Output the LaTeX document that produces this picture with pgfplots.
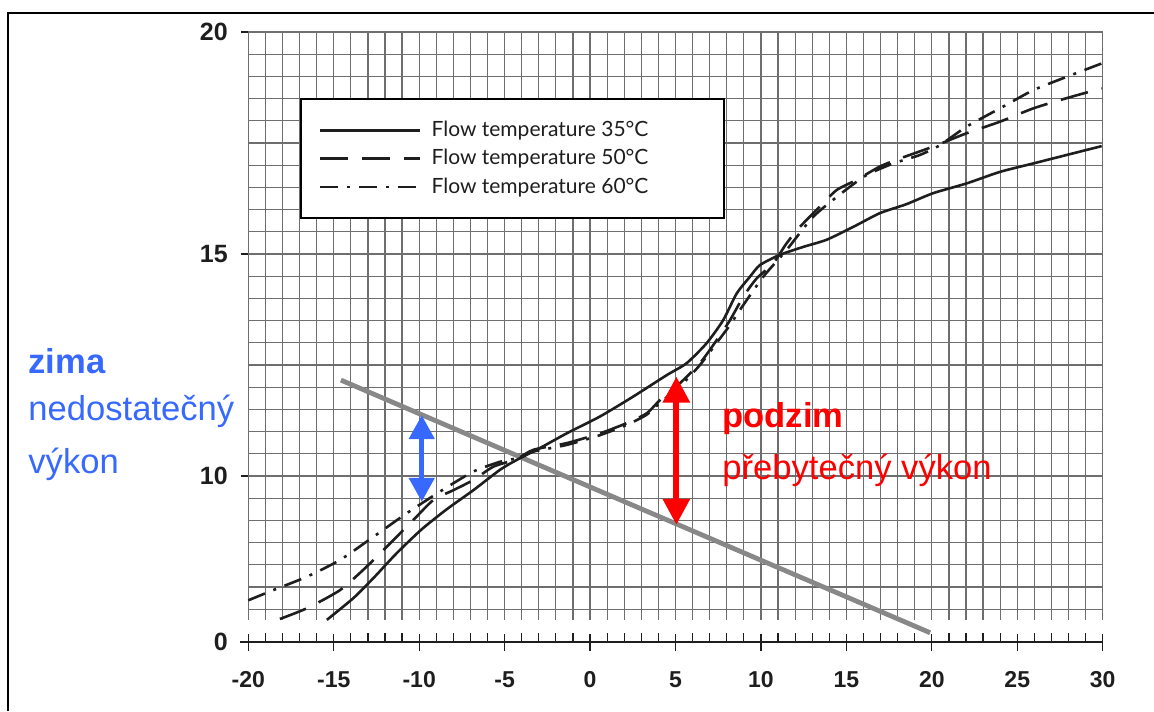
\documentclass[border=0pt]{standalone}
\usepackage{fontspec}
\setmainfont{Liberation Sans}
\newfontfamily\legfont{Lato}
\usepackage{pgfplots}
\pgfplotsset{compat=1.18}
\usetikzlibrary{arrows.meta}
\definecolor{zblue}{RGB}{55,105,255}
\definecolor{pred}{RGB}{255,0,0}
\definecolor{lgray}{RGB}{136,136,136}
\definecolor{gridc}{RGB}{110,110,110}
\definecolor{txt}{RGB}{30,30,30}

\begin{document}
\begin{tikzpicture}[x=1pt,y=1pt]
\path[use as bounding box] (0,0) rectangle (577,355.5);
\draw[line width=1pt] (4,0) -- (4,349) -- (577,349);
% grid-only axis
\begin{axis}[
  at={(124.15pt,45.5pt)}, anchor=south west,
  scale only axis, width=427.2pt, height=294pt,
  xmin=-20, xmax=30, ymin=6.757, ymax=20,
  xtick={-20,-19,...,30}, ytick={7,7.5,...,20},
  xticklabels={}, yticklabels={},
  tick style={draw=none},
  axis line style={draw=none},
  grid=major,
  major grid style={draw=gridc, line width=0.6pt},
]
\end{axis}
\begin{axis}[
  at={(124.15pt,34.5pt)}, anchor=south west,
  scale only axis, width=427.2pt, height=305pt,
  xmin=-20, xmax=30, ymin=6.2613, ymax=20,
  clip=false,
  axis x line*=bottom, axis y line*=left,
  y axis line style={draw=none},
  x axis line style={line width=0.6pt, draw=txt, -},
  xtick={-20,-15,...,30},
  xticklabels={-20,-15,-10,-5,0,5,10,15,20,25,30},
  minor x tick num=4,
  tick align=center,
  major tick length=8.5pt,
  minor tick length=4.5pt,
  x tick style={line width=0.6pt, draw=txt},
  minor x tick style={yshift=2.25pt},
  ytick={6.2613,10,15,20},
  yticklabels={0,10,15,20},
  y tick style={draw=none},
  xticklabel style={font=\fontsize{11.5}{13}\selectfont\bfseries, text=txt, yshift=-7pt},
  yticklabel style={font=\fontsize{12.5}{14}\selectfont\bfseries, text=txt, xshift=-2.5pt},
  legend style={at={(0.0605,0.8918)}, anchor=north west, draw=black, line width=1pt,
    font=\legfont\fontsize{10.5}{12}\selectfont, text=txt,
    inner xsep=9pt, inner ysep=9pt, row sep=1pt, fill=white},
  legend cell align=left,
  legend image code/.code={\draw[#1] (0pt,0pt) -- (50pt,0pt);},
]
\draw[txt, line width=0.6pt] (axis cs:-20,10) -- ++(-3.5pt,0pt);
\draw[txt, line width=0.6pt] (axis cs:-20,15) -- ++(-3.5pt,0pt);
\draw[txt, line width=0.6pt] (axis cs:-20,20) -- ++(-3.5pt,0pt);
\draw[txt, line width=0.6pt] (axis cs:-20,6.2613) -- ++(-4pt,0pt);

% demand line
\addplot[lgray, line width=2.4pt, forget plot] coordinates {(-14.58,12.16) (19.9,6.47)};

% 35 C
\addplot[txt, line width=1.3pt, smooth, tension=0.4] coordinates {
(-15.4,6.76) (-13.85,7.25) (-12.68,7.70) (-11.32,8.26) (-9.85,8.80) (-8.39,9.25)
(-6.83,9.68) (-5.27,10.14) (-4.3,10.36) (-2.93,10.63) (-1.37,10.96) (0.58,11.34)
(2.53,11.79) (4.48,12.27) (5.65,12.54) (6.82,12.99) (7.79,13.51) (8.58,14.11)
(9.36,14.49) (9.94,14.75) (11.1,14.98) (12.48,15.16) (13.84,15.32) (15.4,15.61)
(16.96,15.92) (18.5,16.12) (20.08,16.37) (22.04,16.59) (23.99,16.85) (25.94,17.04)
(27.89,17.23) (29.94,17.43)};
\addlegendentry{\hspace*{3pt}Flow temperature 35°C\hspace*{27pt}}
% 50 C
\addplot[txt, line width=1.3pt, smooth, tension=0.4, dash pattern=on 14pt off 7pt] coordinates {
(-18.15,6.78) (-16.58,7.02) (-14.63,7.43) (-13.07,7.96) (-11.71,8.48) (-10.34,9.01)
(-9.17,9.46) (-8.0,9.68) (-6.83,9.91) (-5.66,10.21) (-4.3,10.38) (-3.32,10.59)
(-1.37,10.74) (0.58,10.96) (2.14,11.19) (3.31,11.41) (4.09,11.71) (5.26,12.09)
(6.43,12.54) (7.41,13.06) (8.19,13.51) (8.97,14.04) (9.75,14.45) (10.72,14.79)
(11.5,15.24) (12.28,15.61) (13.45,16.07) (14.43,16.44) (15.6,16.67) (16.96,16.97)
(18.13,17.15) (20.08,17.42) (22.04,17.72) (23.99,17.98) (25.94,18.28) (27.89,18.51)
(29.94,18.73)};
\addlegendentry{\hspace*{3pt}Flow temperature 50°C\hspace*{27pt}}
% 60 C
\addplot[txt, line width=1.3pt, smooth, tension=0.4, dash pattern=on 9pt off 4.5pt on 1.5pt off 4.5pt] coordinates {
(-20,7.2) (-18.54,7.43) (-16.58,7.73) (-14.63,8.11) (-12.68,8.63) (-10.73,9.16)
(-8.78,9.65) (-6.83,10.1) (-5.27,10.32) (-4.3,10.4) (-3.32,10.55) (-1.37,10.7)
(0.58,10.92) (2.14,11.15) (3.31,11.38) (4.09,11.65) (5.26,12.02) (6.43,12.5)
(7.41,13.0) (8.19,13.4) (8.77,13.74) (10.14,14.49) (11.5,15.09) (13.06,15.84)
(14.82,16.4) (16.19,16.78) (17.75,17.04) (19.3,17.23) (20.47,17.45) (22.04,17.87)
(23.99,18.28) (25.94,18.69) (27.89,18.99) (30.0,19.3)};
\addlegendentry{\hspace*{3pt}Flow temperature 60°C\hspace*{27pt}}

% arrows
\addplot[zblue, line width=2.5pt, forget plot,
  arrows={Triangle[width=12.5pt,length=12pt]-Triangle[width=12.5pt,length=12pt]}]
  coordinates {(-9.85,9.42) (-9.85,11.37)};
\addplot[pred, line width=3pt, forget plot,
  arrows={Triangle[width=13pt,length=13pt]-Triangle[width=13pt,length=13pt]}]
  coordinates {(5.05,8.9) (5.05,12.24)};
\end{axis}

\node[anchor=base west, inner sep=0pt, text=zblue, font=\fontsize{17.3}{20}\selectfont\bfseries] at (14,168.5) {zima};
\node[anchor=base west, inner sep=0pt, text=zblue, font=\fontsize{17.3}{20}\selectfont] at (14,145) {nedostatečný};
\node[anchor=base west, inner sep=0pt, text=zblue, font=\fontsize{17.3}{20}\selectfont] at (14,118.5) {výkon};
\node[anchor=base west, inner sep=0pt, text=pred, font=\fontsize{17.3}{20}\selectfont\bfseries] at (361,141.5) {podzim};
\node[anchor=base west, inner sep=0pt, text=pred, font=\fontsize{17.3}{20}\selectfont] at (361,115.5) {přebytečný výkon};
\end{tikzpicture}
\end{document}
